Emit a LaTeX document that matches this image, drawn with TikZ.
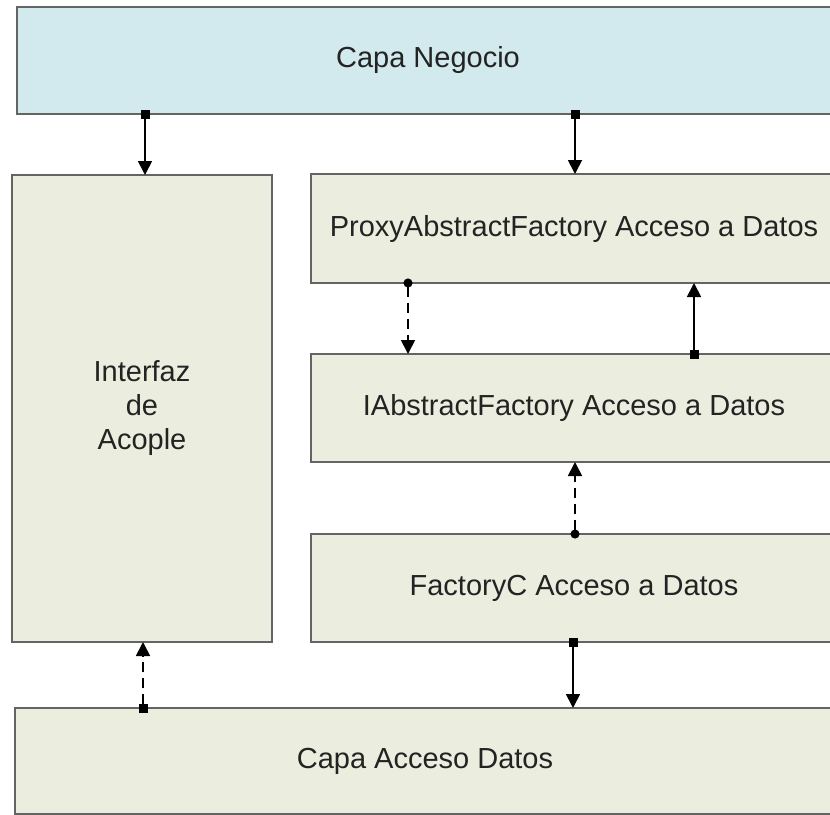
\documentclass[tikz,border=0pt]{standalone}
\usepackage{fontspec}
\setmainfont{Liberation Sans}
\usetikzlibrary{arrows.meta}
\definecolor{negfill}{RGB}{210,233,238}
\definecolor{layfill}{RGB}{235,237,222}
\definecolor{edgegray}{RGB}{100,100,100}
\definecolor{inkgray}{RGB}{35,35,35}
\begin{document}
\begin{tikzpicture}[x=1pt,y=-1pt,
  layer/.style={draw=edgegray,line width=2.4pt,fill=layfill,rectangle,inner sep=0pt,outer sep=0pt,
    text=inkgray,font=\fontsize{29}{34}\selectfont,align=center},
  link/.style={draw=black,line width=1.8pt,shorten <=-4.5pt,-{Triangle[width=14pt,length=14pt]}},
  sqstart/.style={{Square[length=9pt,width=9pt]}-{Triangle[width=14pt,length=14pt]}},
  dotstart/.style={{Circle[length=9pt]}-{Triangle[width=14pt,length=14pt]}},
  dashlink/.style={dash pattern=on 10pt off 6pt}]
\useasboundingbox (0,0) rectangle (830,814);
\clip (0,0) rectangle (830,814);

% layers
\node[layer,fill=negfill,minimum width=822pt,minimum height=107pt] (neg) at (428,60.5) {Capa Negocio};
\node[layer,minimum width=260pt,minimum height=467pt] (int) at (142,408.5) {Interfaz\\de\\Acople};
\node[layer,minimum width=526pt,minimum height=109pt] (proxy) at (574,228.5) {ProxyAbstractFactory Acceso a Datos};
\node[layer,minimum width=526pt,minimum height=108pt] (iab) at (574,408) {IAbstractFactory Acceso a Datos};
\node[layer,minimum width=526pt,minimum height=108pt] (fc) at (574,588) {FactoryC Acceso a Datos};
\node[layer,minimum width=820pt,minimum height=106pt] (acc) at (425,761) {Capa Acceso Datos};

% connectors
\draw[link,sqstart] ([xshift=3pt]int.north |- neg.south) -- ([xshift=3pt]int.north);
\draw[link,sqstart] ([xshift=1pt]proxy.north |- neg.south) -- ([xshift=1pt]proxy.north);
\draw[link,dotstart,dashlink] ([xshift=-166pt]proxy.south) -- ([xshift=-166pt]iab.north);
\draw[link,sqstart] ([xshift=120pt]iab.north) -- ([xshift=120pt]proxy.south);
\draw[link,dotstart,dashlink] ([xshift=1pt]fc.north) -- ([xshift=1pt]iab.south);
\draw[link,sqstart] ([xshift=-1pt]fc.south) -- ([xshift=-1pt]fc.south |- acc.north);
\draw[link,sqstart,dashlink] ([xshift=1pt]int.south |- acc.north) -- ([xshift=1pt]int.south);
\end{tikzpicture}
\end{document}
